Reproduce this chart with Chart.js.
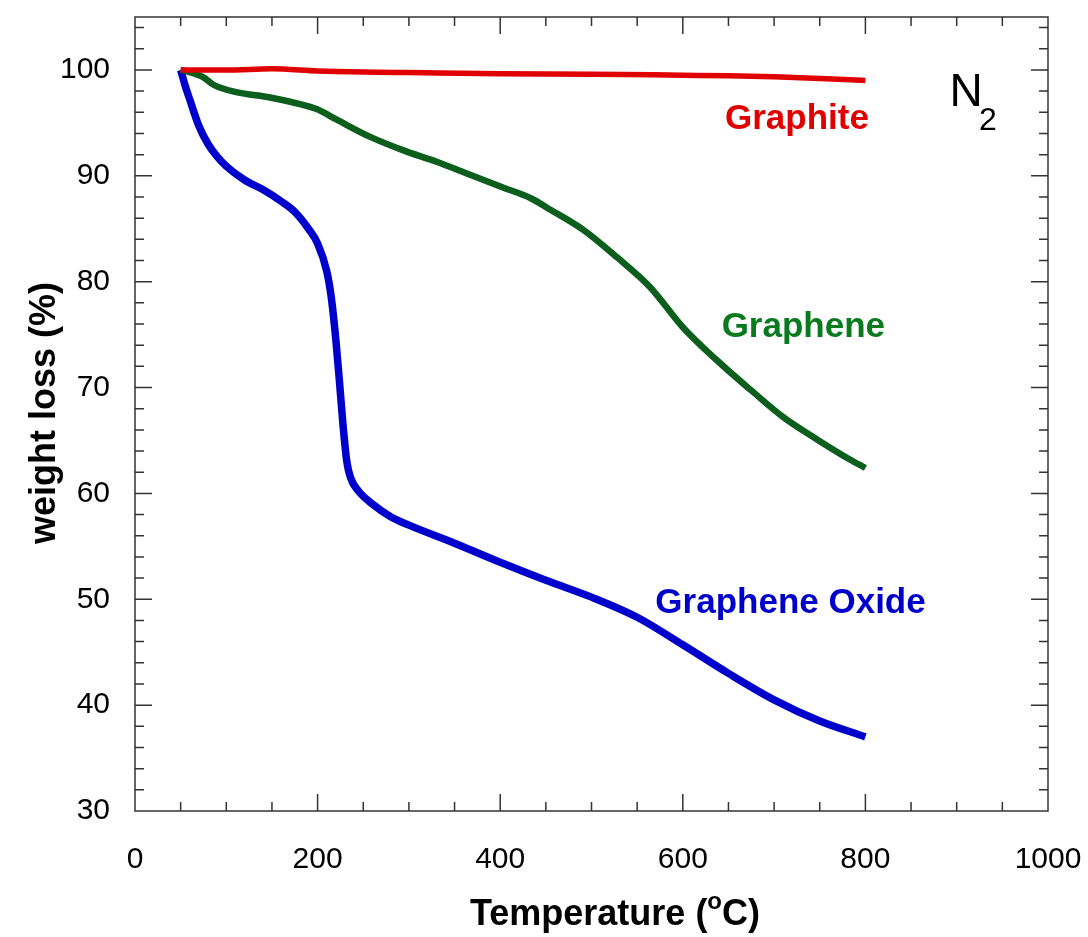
<!DOCTYPE html>
<html>
<head>
<meta charset="utf-8">
<script src="https://cdn.jsdelivr.net/npm/chart.js@4/dist/chart.umd.min.js"></script>
<style>
    html, body { margin: 0; padding: 0; background: #fff; }
    #wrap { width: 1088px; height: 937px; }
</style>
</head>
<body>
<div id="wrap"><canvas id="tga"></canvas></div>
<script>
// temperature (degC) / weight (%)
var grapheneOxideTemp = [50, 55, 60, 70, 80, 90, 100, 120, 140, 160, 175, 190, 200, 210, 215, 220, 224, 228, 232, 236, 245, 260, 280, 300, 350, 400, 450, 500, 550, 600, 650, 700, 750, 800];
var grapheneOxideWeight = [100, 98.5, 97.2, 94.7, 93.0, 91.8, 90.9, 89.6, 88.7, 87.6, 86.6, 85.0, 83.6, 81.0, 78.5, 74.5, 70.5, 66.3, 63.0, 61.5, 60.2, 59.0, 57.8, 57.0, 55.3, 53.5, 51.8, 50.2, 48.3, 45.7, 43.0, 40.5, 38.5, 37.0];

var grapheneTemp = [50, 60, 75, 86, 111, 148, 184, 199, 221, 257, 294, 331, 367, 403, 433, 455, 491, 528, 564, 600, 637, 674, 710, 747, 783, 800];
var grapheneWeight = [100, 99.8, 99.3, 98.6, 97.9, 97.4, 96.7, 96.3, 95.3, 93.7, 92.4, 91.3, 90.1, 88.9, 87.9, 86.8, 84.9, 82.3, 79.5, 75.7, 72.6, 69.8, 67.2, 65.1, 63.2, 62.4];

var graphiteTemp = [50, 100, 150, 200, 250, 300, 400, 500, 600, 650, 700, 750, 800];
var graphiteWeight = [100, 100, 100.1, 99.9, 99.8, 99.75, 99.65, 99.6, 99.5, 99.45, 99.35, 99.2, 99.0];

var xTicks = [0, 200, 400, 600, 800, 1000];
var yTicks = [30, 40, 50, 60, 70, 80, 90, 100];

function toPoints(xs, ys) {
    return xs.map(function (x, i) { return {x: x, y: ys[i]}; });
}

var FONT = "'Liberation Sans', Arial, sans-serif";

// inward ticks on all four sides + box
var boxTicks = {
    id: 'boxTicks',
    afterDatasetsDraw: function (chart) {
        var ctx = chart.ctx, a = chart.chartArea;
        var xs = chart.scales.x, ys = chart.scales.y;
        ctx.save();
        ctx.strokeStyle = '#333';
        ctx.lineWidth = 1.5;
        ctx.strokeRect(a.left, a.top, a.right - a.left, a.bottom - a.top);
        ctx.beginPath();
        for (var t = 50; t < 1000; t += 50) {
            var px = xs.getPixelForValue(t);
            var len = (t % 200 === 0) ? 17 : 9;
            ctx.moveTo(px, a.bottom); ctx.lineTo(px, a.bottom - len);
            ctx.moveTo(px, a.top); ctx.lineTo(px, a.top + len);
        }
        for (var v = 32; v < 105; v += 2) {
            var py = ys.getPixelForValue(v);
            var l = (v % 10 === 0) ? 17 : 9;
            ctx.moveTo(a.left, py); ctx.lineTo(a.left + l, py);
            ctx.moveTo(a.right, py); ctx.lineTo(a.right - l, py);
        }
        ctx.stroke();
        ctx.restore();
    }
};

// curve names, N2 and axis titles
var annotations = {
    id: 'annotations',
    afterDraw: function (chart) {
        var ctx = chart.ctx;
        var xs = chart.scales.x, ys = chart.scales.y;
        ctx.save();
        ctx.textAlign = 'center';
        ctx.textBaseline = 'middle';
        ctx.font = 'bold 35px ' + FONT;
        ctx.fillStyle = '#e00000';
        ctx.fillText('Graphite', xs.getPixelForValue(725), ys.getPixelForValue(95.3));
        ctx.fillStyle = '#0a7a1e';
        ctx.fillText('Graphene', xs.getPixelForValue(732), ys.getPixelForValue(75.7));
        ctx.fillStyle = '#0000cc';
        ctx.fillText('Graphene Oxide', xs.getPixelForValue(718), ys.getPixelForValue(49.6));

        ctx.fillStyle = '#000';
        ctx.font = '46px ' + FONT;
        ctx.fillText('N', 966, 93);
        ctx.font = '32px ' + FONT;
        ctx.fillText('2', 988, 121);

        // x title with superscript o
        ctx.textAlign = 'left';
        ctx.font = 'bold 36px ' + FONT;
        var p1 = 'Temperature (', p3 = 'C)';
        var w1 = ctx.measureText(p1).width;
        ctx.font = 'bold 24px ' + FONT;
        var w2 = ctx.measureText('o').width;
        ctx.font = 'bold 36px ' + FONT;
        var w3 = ctx.measureText(p3).width;
        var x0 = 615 - (w1 + w2 + w3) / 2;
        ctx.fillText(p1, x0, 915);
        ctx.font = 'bold 24px ' + FONT;
        ctx.fillText('o', x0 + w1, 902);
        ctx.font = 'bold 36px ' + FONT;
        ctx.fillText(p3, x0 + w1 + w2, 915);

        // y title
        ctx.translate(45, 413);
        ctx.rotate(-Math.PI / 2);
        ctx.textAlign = 'center';
        ctx.fillText('weight loss (%)', 0, 0);
        ctx.restore();
    }
};

function lineSet(label, xs, ys, color, width) {
    return {
        label: label,
        data: toPoints(xs, ys),
        borderColor: color,
        backgroundColor: color,
        borderWidth: width,
        pointRadius: 0,
        cubicInterpolationMode: 'monotone',
        fill: false
    };
}

new Chart(document.getElementById('tga'), {
    type: 'line',
    data: {
        datasets: [
            lineSet('Graphite', graphiteTemp, graphiteWeight, '#e00000', 5.5),
            lineSet('Graphene', grapheneTemp, grapheneWeight, '#0b5e1c', 6.5),
            lineSet('Graphene Oxide', grapheneOxideTemp, grapheneOxideWeight, '#0000cc', 7.5)
        ]
    },
    options: {
        responsive: true,
        maintainAspectRatio: false,
        animation: false,
        layout: { padding: { top: 17, right: 40, left: 0, bottom: 0 } },
        plugins: { legend: { display: false }, tooltip: { enabled: false } },
        scales: {
            x: {
                type: 'linear',
                min: 0, max: 1000,
                grid: { display: false, drawTicks: false },
                border: { display: false },
                afterBuildTicks: function (scale) {
                    scale.ticks = xTicks.map(function (v) { return {value: v}; });
                },
                afterFit: function (scale) {
                    scale.height = 937 - 811;
                    scale.paddingLeft = 0;
                    scale.paddingRight = 0;
                },
                ticks: {
                    padding: 31,
                    maxRotation: 0,
                    color: '#000',
                    font: { family: FONT, size: 30 },
                    callback: function (v) { return String(v); }
                }
            },
            y: {
                min: 30, max: 105,
                grid: { display: false, drawTicks: false },
                border: { display: false },
                afterBuildTicks: function (scale) {
                    scale.ticks = yTicks.map(function (v) { return {value: v}; });
                },
                afterFit: function (scale) {
                    scale.width = 135;
                    scale.paddingTop = 0;
                    scale.paddingBottom = 0;
                },
                ticks: {
                    padding: 25,
                    color: '#000',
                    font: { family: FONT, size: 30 },
                    callback: function (v) { return String(v); }
                }
            }
        }
    },
    plugins: [boxTicks, annotations]
});
</script>
</body>
</html>
